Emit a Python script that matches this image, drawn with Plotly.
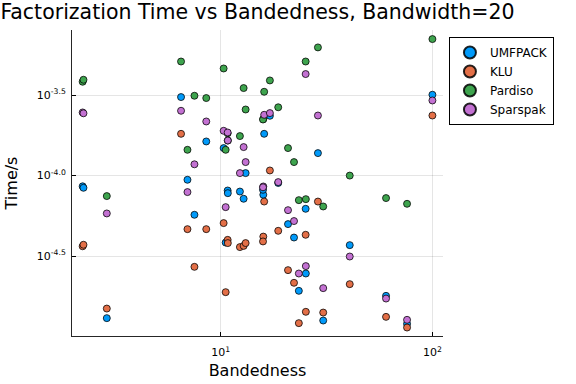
import plotly.graph_objects as go

# Bandedness of each test matrix (shared by all solvers)
bandedness = [2.23, 2.25, 2.90, 6.50, 6.97, 7.52, 8.55, 10.33, 10.56, 10.79,
              10.81, 12.33, 12.84, 13.12, 16.05, 15.90, 15.85, 17.08, 18.7, 20.8,
              22.2, 23.4, 25.2, 25.25, 28.8, 30.5, 40.7, 60.4, 75.9, 100.0]

umfpack = [8.58e-5, 8.40e-5, 1.303e-5, 3.073e-4, 9.42e-5, 5.71e-5, 1.629e-4, 1.482e-4, 3.84e-5, 8.08e-5,
           7.78e-5, 7.96e-5, 7.18e-5, 1.036e-4, 1.817e-4, 7.60e-5, 8.16e-5, 2.351e-4, 9.0e-5, 4.997e-5,
           4.125e-5, 1.925e-5, 6.22e-5, 2.466e-5, 1.379e-4, 1.259e-5, 3.70e-5, 1.792e-5, 1.201e-5, 3.177e-4]

klu = [3.64e-5, 3.72e-5, 1.494e-5, 1.817e-4, 4.65e-5, 2.713e-5, 4.65e-5, 5.07e-5, 1.889e-5, 3.99e-5,
       3.81e-5, 3.597e-5, 3.66e-5, 3.81e-5, 6.90e-5, 4.18e-5, 3.90e-5, 1.076e-4, 4.54e-5, 2.588e-5,
       2.159e-5, 1.213e-5, 4.29e-5, 1.426e-5, 6.90e-5, 1.411e-5, 2.118e-5, 1.327e-5, 1.139e-5, 2.361e-4]

pardiso = [3.825e-4, 3.936e-4, 7.46e-5, 5.11e-4, 1.446e-4, 3.131e-4, 3.03e-4, 4.625e-4, 1.446e-4, 1.83e-4,
           1.65e-4, 1.759e-4, 3.495e-4, 2.573e-4, 3.315e-4, 2.244e-4, 2.23e-4, 3.897e-4, 2.655e-4, 1.482e-4,
           1.213e-4, 7.04e-5, 5.11e-4, 7.14e-5, 6.25e-4, 6.43e-5, 1.0e-4, 7.25e-5, 6.68e-5, 7.04e-4]

sparspak = [2.466e-4, 2.437e-4, 5.82e-5, 2.526e-4, 7.90e-5, 1.175e-4, 2.168e-4, 1.897e-4, 6.37e-5, 1.852e-4,
            1.652e-4, 1.036e-4, 1.503e-4, 1.213e-4, 2.385e-4, 8.56e-5, 8.46e-5, 2.444e-4, 9.11e-5, 6.10e-5,
            5.22e-5, 2.466e-5, 4.27e-4, 2.741e-5, 2.361e-4, 2.001e-5, 3.144e-5, 1.724e-5, 1.272e-5, 2.927e-4]

series_names = ["UMFPACK", "KLU", "Pardiso", "Sparspak"]
series_values = [umfpack, klu, pardiso, sparspak]
colors = ["#009AFA", "#E36F47", "#3EA44E", "#C371D2"]

x_tick_vals = [10, 100]
x_tick_text = ["10<sup>1</sup>", "10<sup>2</sup>"]
y_tick_vals = [10 ** -4.5, 10 ** -4.0, 10 ** -3.5]
y_tick_text = ["10<sup>-4.5</sup>", "10<sup>-4.0</sup>", "10<sup>-3.5</sup>"]

FONT = "DejaVu Sans"

fig = go.Figure()
for name, vals, col in zip(series_names, series_values, colors):
    fig.add_trace(go.Scatter(
        x=bandedness, y=vals, mode="markers", name=name,
        marker=dict(size=7, color=col, line=dict(color="rgba(0,0,0,0.85)", width=0.9)),
    ))

fig.update_layout(
    width=576, height=384,
    paper_bgcolor="white", plot_bgcolor="white",
    margin=dict(l=72, r=133, t=30, b=48, autoexpand=False),
    font=dict(family=FONT, color="black"),
    title=dict(text="Factorization Time vs Bandedness, Bandwidth=20",
               x=0.5, xref="paper", xanchor="center",
               y=1 - 12 / 384, yref="container", yanchor="middle",
               font=dict(size=20.5, family=FONT, color="black")),
    showlegend=True,
    legend=dict(x=1.016, y=0.977, xanchor="left", yanchor="top",
                bgcolor="white", bordercolor="black", borderwidth=1,
                font=dict(size=12, family=FONT, color="black"),
                itemsizing="constant", itemwidth=30, tracegroupgap=0),
)

fig.update_xaxes(
    type="log", range=[0.298, 2.050], automargin=False,
    tickmode="array", tickvals=x_tick_vals, ticktext=x_tick_text,
    showgrid=True, gridcolor="rgba(0,0,0,0.1)", gridwidth=1,
    showline=True, linecolor="rgba(0,0,0,0.85)", linewidth=1, mirror=False,
    ticks="inside", ticklen=4, tickcolor="black",
    tickfont=dict(size=11, family=FONT, color="black"),
    ticklabelstandoff=6,
    zeroline=False,
    title=dict(text="Bandedness", font=dict(size=16, family=FONT, color="black"), standoff=6),
)
fig.update_yaxes(
    type="log", range=[-4.996, -3.096], automargin=False,
    tickmode="array", tickvals=y_tick_vals, ticktext=y_tick_text,
    showgrid=True, gridcolor="rgba(0,0,0,0.1)", gridwidth=1,
    showline=True, linecolor="rgba(0,0,0,0.85)", linewidth=1, mirror=False,
    ticks="inside", ticklen=4, tickcolor="black",
    tickfont=dict(size=11, family=FONT, color="black"),
    ticklabelstandoff=3,
    zeroline=False,
    title=dict(text="Time/s", font=dict(size=16, family=FONT, color="black"), standoff=15),
)

# remove the browser's default 8 px body margin so the figure fills the window exactly
fig.write_html("out.html", config={"displayModeBar": False},
               post_script="document.body.style.margin='0';")
